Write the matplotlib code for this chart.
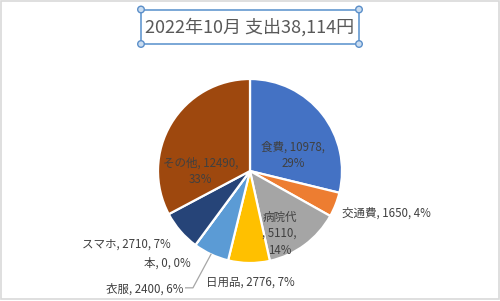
import matplotlib
matplotlib.use("Agg")
import matplotlib.pyplot as plt
import numpy as np
from matplotlib.patches import Rectangle, Circle

plt.rcParams["font.family"] = ["Noto Sans CJK JP", "DejaVu Sans"]

# ---------------------------------------------------------------------------
# Data
# ---------------------------------------------------------------------------
TITLE = "2022年10月 支出38,114円"
categories = ["食費", "交通費", "病院代", "日用品", "衣服", "本", "スマホ", "その他"]
values = [10978, 1650, 5110, 2776, 2400, 0, 2710, 12490]
percents = [29, 4, 14, 7, 6, 0, 7, 33]
colors = ["#4472C4", "#ED7D31", "#A5A5A5", "#FFC000",
          "#5B9BD5", "#70AD47", "#264478", "#9E480E"]

# label layout (pie units, radius = 1): x, y, horizontal alignment, line breaks
label_pos = [(0.47, 0.17, "center"), (1.0, -0.46, "left"), (0.32, -0.68, "center"),
             (0.0, -1.21, "center"), (-0.72, -1.28, "right"), (-0.90, -1.0, "center"),
             (-1.34, -0.80, "center"), (-0.54, 0.0, "center")]
label_fmt = ["{n}, {v},\n{p}%", "{n}, {v}, {p}%", "{n}\n, {v},\n{p}%", "{n}, {v}, {p}%",
             "{n}, {v}, {p}%", "{n}, {v}, {p}%", "{n}, {v}, {p}%", "{n}, {v},\n{p}%"]

TEXT = "#404040"

fig = plt.figure(figsize=(5.0, 3.01), dpi=100, facecolor="white")

# overlay in pixel coords for frame / title box
ov = fig.add_axes([0, 0, 1, 1])
ov.set_xlim(0, 500)
ov.set_ylim(301, 0)
ov.axis("off")
ov.add_patch(Rectangle((1, 1), 498, 298, fill=False, ec="#d9d9d9", lw=1.2))
ov.add_patch(Rectangle((141, 9.5), 218, 34.5, fill=False, ec="#7aa7d6", lw=1.4))
for hx, hy in [(141, 9.5), (359, 9.5), (141, 44), (359, 44)]:
    ov.add_patch(Circle((hx, hy), 3.3, fc="#c9dcf0", ec="#5b8fc9", lw=1.0, zorder=5))
ov.text(250, 27, TITLE, ha="center", va="center", fontsize=13, color="#595959")

# pie
ax = fig.add_axes([(250 - 92) / 500, (301 - 171 - 92) / 301, 184 / 500, 184 / 301])
wedges, _ = ax.pie(values, colors=colors, startangle=90, counterclock=False,
                   radius=1.0, wedgeprops=dict(edgecolor="white", linewidth=1.6))
ax.set_xlim(-1, 1)
ax.set_ylim(-1, 1)
ax.set_aspect("equal")
ax.axis("off")

for name, v, p, (lx, ly, ha), fmt in zip(categories, values, percents, label_pos, label_fmt):
    ax.text(lx, ly, fmt.format(n=name, v=v, p=p), ha=ha, va="center",
            fontsize=8.3, color=TEXT, linespacing=1.35, clip_on=False)

# leader line for 衣服
w = wedges[categories.index("衣服")]
mid = np.deg2rad((w.theta1 + w.theta2) / 2)
ax.plot([np.cos(mid), -0.62, -0.70], [np.sin(mid), -1.27, -1.27],
        color="#a6a6a6", lw=0.9, clip_on=False)

fig.savefig("out.png", dpi=100, facecolor="white")
